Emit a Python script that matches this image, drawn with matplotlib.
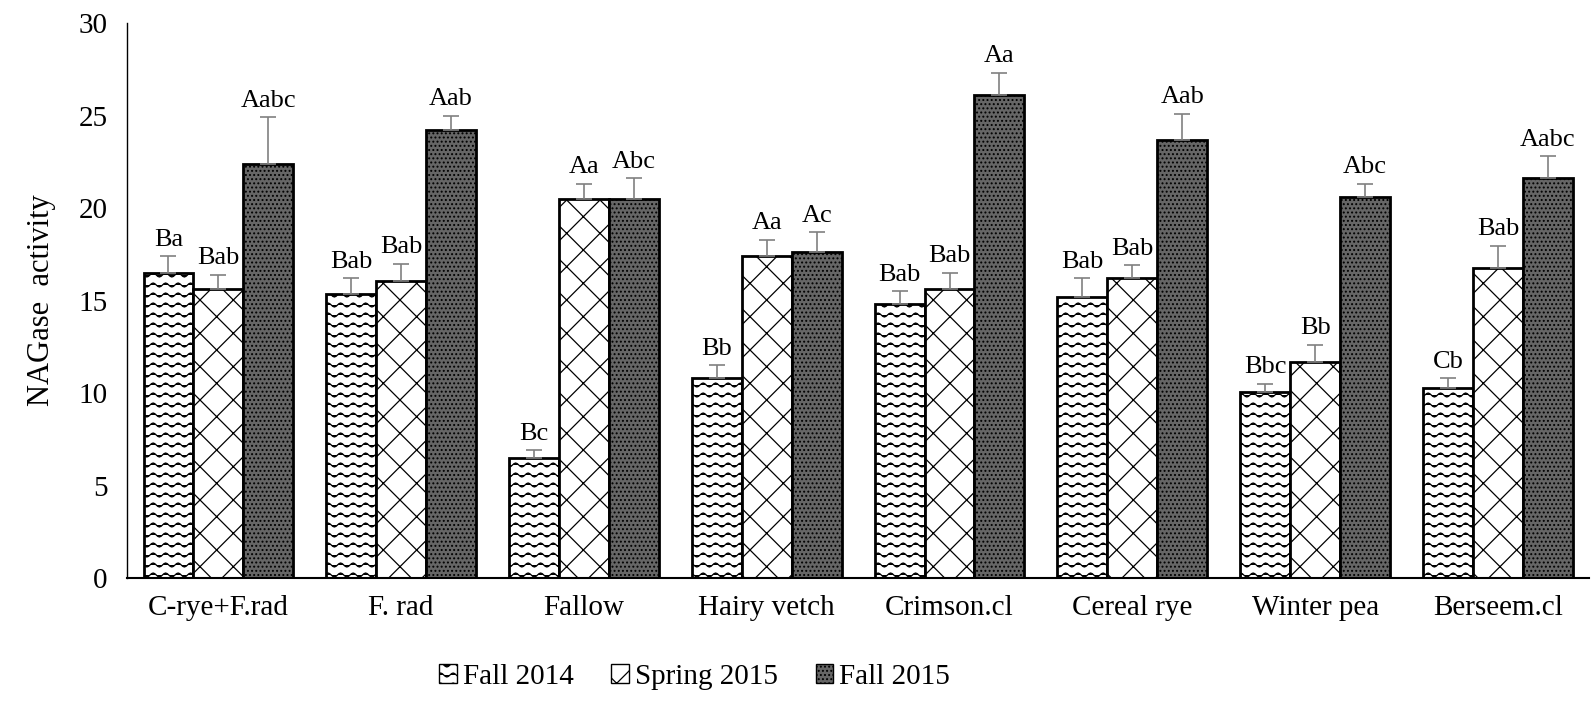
import matplotlib
matplotlib.use("Agg")
import matplotlib.pyplot as plt
import matplotlib.hatch as mhatch
from matplotlib.path import Path
from matplotlib.patches import Patch
import numpy as np

plt.rcParams['font.family'] = ['Liberation Serif', 'DejaVu Serif']
plt.rcParams['hatch.linewidth'] = 0.9


# wavy hatch used for the '-' symbol
class WavyHatch(mhatch.HatchPatternBase):
    npts = 65

    def __init__(self, hatch, density):
        self.num_lines = int((hatch.count('-') + hatch.count('+')) * density * 5 // 6)
        self.num_vertices = self.num_lines * self.npts

    def set_vertices_and_codes(self, vertices, codes):
        steps, stepsize = np.linspace(0.0, 1.0, self.num_lines, False, retstep=True)
        steps += stepsize / 2.
        t = np.linspace(0.0, 1.0, self.npts)
        for k, y0 in enumerate(steps):
            s = k * self.npts
            vertices[s:s + self.npts, 0] = t
            vertices[s:s + self.npts, 1] = y0 + 0.02 * np.sin(2 * np.pi * 8 * t)
            codes[s:s + self.npts] = Path.LINETO
            codes[s] = Path.MOVETO


for _i, _h in enumerate(mhatch._hatch_types):
    if _h is mhatch.HorizontalHatch:
        mhatch._hatch_types[_i] = WavyHatch

categories = ["C-rye+F.rad", "F. rad", "Fallow", "Hairy vetch", "Crimson.cl",
              "Cereal rye", "Winter pea", "Berseem.cl"]
series_names = ["Fall 2014", "Spring 2015", "Fall 2015"]

fall2014 = [16.5, 15.35, 6.5, 10.8, 14.8, 15.2, 10.05, 10.3]
spring2015 = [15.6, 16.05, 20.5, 17.4, 15.6, 16.2, 11.7, 16.75]
fall2015 = [22.4, 24.2, 20.5, 17.6, 26.1, 23.7, 20.6, 21.6]

err2014 = [0.9, 0.85, 0.4, 0.7, 0.7, 1.0, 0.45, 0.5]
err2015s = [0.8, 0.95, 0.8, 0.9, 0.9, 0.7, 0.9, 1.2]
err2015f = [2.5, 0.8, 1.1, 1.1, 1.2, 1.4, 0.7, 1.2]

lab2014 = ["Ba", "Bab", "Bc", "Bb", "Bab", "Bab", "Bbc", "Cb"]
lab2015s = ["Bab", "Bab", "Aa", "Aa", "Bab", "Bab", "Bb", "Bab"]
lab2015f = ["Aabc", "Aab", "Abc", "Ac", "Aa", "Aab", "Abc", "Aabc"]

yticks = [0, 5, 10, 15, 20, 25, 30]

fig = plt.figure(figsize=(15.93, 7.2), dpi=100)
ax = fig.add_axes([0.0797, 0.197, 0.918, 0.771])

x = np.arange(len(categories))
w = 0.273
styles = [
    dict(facecolor="white", hatch="--"),
    dict(facecolor="white", hatch="x"),
    dict(facecolor="#666666", hatch="...."),
]
vals = [fall2014, spring2015, fall2015]
errs = [err2014, err2015s, err2015f]
labs = [lab2014, lab2015s, lab2015f]

for i in range(3):
    xs = x + (i - 1) * w
    ax.bar(xs, vals[i], width=w, edgecolor="black", linewidth=2.0, zorder=2, **styles[i])
    ax.errorbar(xs, vals[i], yerr=[np.zeros(len(x)), errs[i]], fmt="none",
                ecolor="#808080", elinewidth=1.2, capsize=6, capthick=1.2, zorder=3)
    for xi, v, e, t in zip(xs, vals[i], errs[i], labs[i]):
        ax.text(xi, v + e + 0.3, t, ha="center", va="bottom", fontsize=19, zorder=4)

ax.set_xlim(-0.5, len(categories) - 0.5)
ax.set_ylim(0, 30)
ax.set_yticks(yticks)
ax.set_xticks(x)
ax.set_xticklabels(categories, fontsize=21)
ax.tick_params(axis="y", labelsize=21, length=0, pad=14)
ax.tick_params(axis="x", length=0, pad=12)
ax.spines["top"].set_visible(False)
ax.spines["right"].set_visible(False)
ax.spines["left"].set_linewidth(1.0)
ax.spines["bottom"].set_linewidth(1.5)
ax.set_ylabel("NAGase  activity", fontsize=22, labelpad=16)

handles = [Patch(edgecolor="black", linewidth=1.0, label=n, **s) for n, s in zip(series_names, styles)]
fig.legend(handles=handles, loc="center", bbox_to_anchor=(0.436, 0.06), ncol=3, frameon=False,
           fontsize=21, handlelength=0.6, handleheight=0.6, handletextpad=0.2, columnspacing=1.3)

fig.savefig("out.png", dpi=100)
